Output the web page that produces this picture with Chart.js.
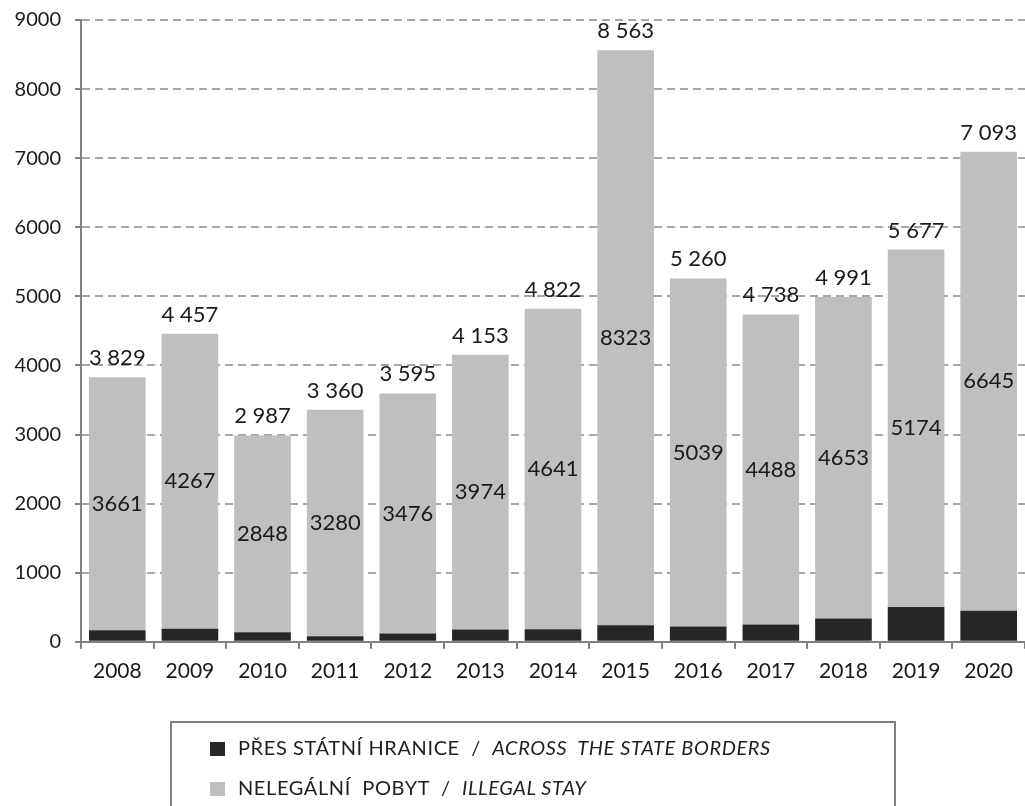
<!DOCTYPE html>
<html>
<head>
<meta charset="utf-8">
<script src="https://cdn.jsdelivr.net/npm/chart.js@4"></script>
<style>
    body { margin: 0; background: #fff; }
    #wrap { position: relative; width: 1025px; height: 806px; }
    #legend {
        position: absolute; left: 170px; top: 721px; width: 726px; height: 110px;
        border: 2px solid #7f7f7f; box-sizing: border-box;
        font-family: Lato, sans-serif; font-size: 20px; letter-spacing: 0.6px; color: #1f1f1f;
    }
    .item { position: absolute; left: 38px; height: 22px; line-height: 22px; white-space: pre; }
    .box { display: inline-block; width: 15px; height: 14px; vertical-align: -1px; margin-right: 13px; }
</style>
</head>
<body>
<div id="wrap">
    <canvas id="chart" width="1025" height="806"></canvas>
    <div id="legend">
        <div class="item" style="top:13px"><span class="box" style="background:#262626"></span>PŘES STÁTNÍ HRANICE  /  <i>ACROSS  THE STATE BORDERS</i></div>
        <div class="item" style="top:53px"><span class="box" style="background:#bfbfbf"></span>NELEGÁLNÍ  POBYT  /  <i>ILLEGAL STAY</i></div>
    </div>
</div>
<script>
// data
const years = ["2008", "2009", "2010", "2011", "2012", "2013", "2014", "2015", "2016", "2017", "2018", "2019", "2020"]
const acrossBorders = [168, 190, 139, 80, 119, 179, 181, 240, 221, 250, 338, 503, 448]
const illegalStay = [3661, 4267, 2848, 3280, 3476, 3974, 4641, 8323, 5039, 4488, 4653, 5174, 6645]

const FONT = "Lato, sans-serif"

function fmtSpace(v) {
    return String(v).replace(/\B(?=(\d{3})+(?!\d))/g, " ")
}

// labels: illegal value in the middle, total on top
const barLabels = {
    id: "barLabels",
    afterDatasetsDraw(chart) {
        const ctx = chart.ctx
        const top = chart.getDatasetMeta(1)
        ctx.save()
        ctx.fillStyle = "#1a1a1a"
        ctx.font = "22px " + FONT
        ctx.textAlign = "center"
        top.data.forEach((bar, i) => {
            ctx.textBaseline = "middle"
            ctx.fillText(String(illegalStay[i]), bar.x, (bar.y + bar.base) / 2)
            ctx.textBaseline = "alphabetic"
            ctx.fillText(fmtSpace(acrossBorders[i] + illegalStay[i]), bar.x, bar.y - 12)
        })
        ctx.restore()
    },
}

function main() {
    new Chart(document.getElementById("chart"), {
        type: "bar",
        data: {
            labels: years,
            datasets: [
                {
                    label: "PŘES STÁTNÍ HRANICE / ACROSS THE STATE BORDERS",
                    data: acrossBorders,
                    backgroundColor: "#262626",
                },
                {
                    label: "NELEGÁLNÍ POBYT / ILLEGAL STAY",
                    data: illegalStay,
                    backgroundColor: "#bfbfbf",
                },
            ],
        },
        options: {
            responsive: false,
            animation: false,
            datasets: {
                bar: { categoryPercentage: 1, barPercentage: 0.78 },
            },
            layout: { padding: { top: 20, right: 0, bottom: 112, left: 0 } },
            scales: {
                x: {
                    stacked: true,
                    grid: {
                        drawOnChartArea: false,
                        color: "#808080",
                        tickLength: 7,
                        lineWidth: 2,
                    },
                    border: { color: "#808080", width: 2 },
                    ticks: { color: "#1a1a1a", font: { family: FONT, size: 21 }, padding: 10 },
                },
                y: {
                    stacked: true,
                    min: 0,
                    max: 9000,
                    afterFit: (scale) => {
                        scale.width = 81
                        scale.paddingTop = 0
                    },
                    grid: {
                        color: "#a6a6a6",
                        lineWidth: 2,
                        tickColor: "#808080",
                        tickLength: 6,
                        tickBorderDash: [],
                    },
                    border: { color: "#808080", width: 2, dash: [8, 5] },
                    ticks: {
                        stepSize: 1000,
                        color: "#1a1a1a",
                        font: { family: FONT, size: 20 },
                        padding: 14,
                        callback: (v) => String(v),
                    },
                },
            },
            plugins: {
                legend: { display: false },
                tooltip: { enabled: false },
            },
        },
        plugins: [barLabels],
    })
}

document.addEventListener("DOMContentLoaded", main)
</script>
</body>
</html>
